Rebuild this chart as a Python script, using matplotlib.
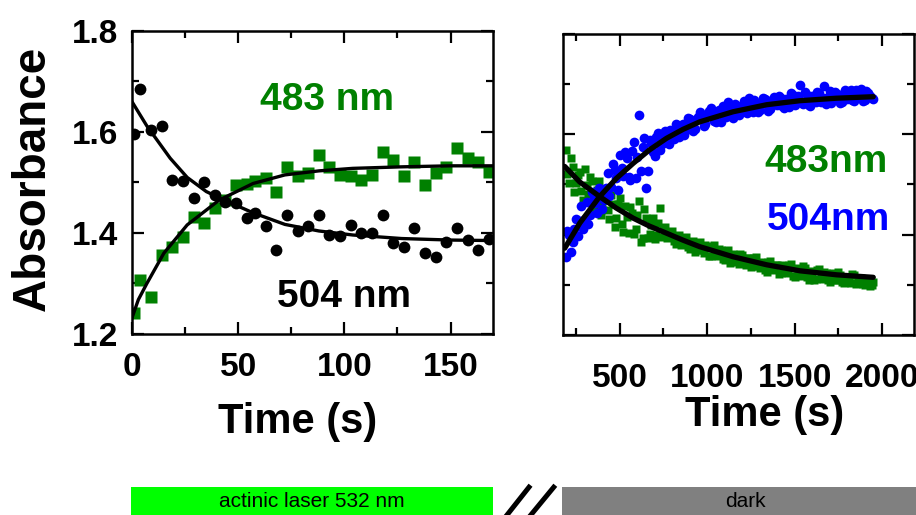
import matplotlib
matplotlib.use("Agg")
import matplotlib.pyplot as plt
from matplotlib.ticker import MultipleLocator
from matplotlib.patches import Rectangle
from matplotlib.lines import Line2D

plt.rcParams['font.family'] = ['Liberation Sans', 'DejaVu Sans']
plt.rcParams['font.weight'] = 'bold'

# left panel: actinic laser on
t_light = [1, 4, 9, 14, 19, 24, 29, 34, 39, 44, 49, 54, 58, 63, 68, 73, 78, 83,
           88, 93, 98, 103, 108, 113, 118, 123, 128, 133, 138, 143, 148, 153,
           158, 163, 168]
a504_light = [1.597, 1.686, 1.604, 1.612, 1.505, 1.502, 1.469, 1.500, 1.475,
              1.462, 1.459, 1.429, 1.439, 1.413, 1.366, 1.436, 1.403, 1.414,
              1.436, 1.396, 1.395, 1.416, 1.399, 1.399, 1.436, 1.380, 1.373,
              1.409, 1.360, 1.353, 1.383, 1.409, 1.386, 1.366, 1.389]
a483_light = [1.241, 1.307, 1.274, 1.356, 1.373, 1.393, 1.432, 1.419, 1.449,
              1.465, 1.495, 1.498, 1.502, 1.508, 1.482, 1.531, 1.512, 1.518,
              1.554, 1.531, 1.515, 1.512, 1.505, 1.515, 1.561, 1.545, 1.512,
              1.541, 1.495, 1.518, 1.531, 1.568, 1.548, 1.541, 1.521]

# fit curves
fit504_t_light = [0, 7, 18, 26, 35, 43, 57, 72, 88, 104, 127, 150, 170]
fit504_light = [1.660, 1.612, 1.548, 1.510, 1.482, 1.466, 1.440, 1.417, 1.404,
                1.396, 1.389, 1.386, 1.385]
fit483_t_light = [0, 3, 7, 15, 26, 41, 57, 72, 88, 104, 127, 150, 170]
fit483_light = [1.232, 1.268, 1.300, 1.360, 1.416, 1.465, 1.498, 1.515, 1.523,
                1.528, 1.531, 1.533, 1.533]

# right panel: dark recovery (two interleaved sweeps)
t_dark = [190, 210, 230, 250, 270, 290, 310, 330, 350, 370,
          390, 410, 430, 450, 470, 490, 510, 530, 550, 570,
          590, 610, 630, 650, 670, 690, 710, 730, 750, 770,
          790, 810, 830, 850, 870, 890, 910, 930, 950, 970,
          990, 1010, 1030, 1050, 1070, 1090, 1110, 1130, 1150, 1170,
          1190, 1210, 1230, 1250, 1270, 1290, 1310, 1330, 1350, 1370,
          1390, 1410, 1430, 1450, 1470, 1490, 1510, 1530, 1550, 1570,
          1590, 1610, 1630, 1650, 1670, 1690, 1710, 1730, 1750, 1770,
          1790, 1810, 1830, 1850, 1870, 1890, 1910, 1930, 1950]
a504_dark = [1.356, 1.399, 1.386, 1.432, 1.428, 1.412, 1.466, 1.440, 1.474, 1.443,
             1.487, 1.470, 1.523, 1.496, 1.528, 1.490, 1.532, 1.564, 1.515, 1.566,
             1.512, 1.638, 1.574, 1.494, 1.589, 1.564, 1.594, 1.569, 1.598, 1.584,
             1.608, 1.590, 1.619, 1.613, 1.599, 1.632, 1.619, 1.610, 1.635, 1.630,
             1.620, 1.646, 1.637, 1.625, 1.649, 1.657, 1.635, 1.651, 1.633, 1.657,
             1.650, 1.666, 1.643, 1.659, 1.668, 1.645, 1.661, 1.670, 1.647, 1.668,
             1.661, 1.677, 1.657, 1.670, 1.655, 1.678, 1.668, 1.698, 1.660, 1.678,
             1.657, 1.675, 1.684, 1.664, 1.696, 1.675, 1.662, 1.684, 1.674, 1.665,
             1.689, 1.681, 1.668, 1.688, 1.678, 1.667, 1.687, 1.677, 1.671]
a483_dark = [1.569, 1.502, 1.535, 1.503, 1.525, 1.469, 1.499, 1.514, 1.464, 1.489,
             1.440, 1.484, 1.449, 1.480, 1.415, 1.461, 1.422, 1.458, 1.403, 1.444,
             1.411, 1.468, 1.394, 1.433, 1.402, 1.434, 1.399, 1.453, 1.413, 1.393,
             1.405, 1.388, 1.397, 1.379, 1.394, 1.375, 1.384, 1.366, 1.383, 1.369,
             1.380, 1.358, 1.378, 1.362, 1.372, 1.352, 1.364, 1.344, 1.362, 1.346,
             1.362, 1.344, 1.353, 1.335, 1.353, 1.338, 1.346, 1.329, 1.345, 1.330,
             1.339, 1.321, 1.340, 1.327, 1.340, 1.318, 1.333, 1.320, 1.337, 1.316,
             1.327, 1.310, 1.329, 1.314, 1.326, 1.309, 1.322, 1.310, 1.325, 1.305,
             1.316, 1.306, 1.321, 1.301, 1.312, 1.302, 1.309, 1.297, 1.305]

t_dark2 = [200, 220, 240, 260, 280, 300, 320, 340, 360, 380,
           400, 420, 440, 460, 480, 500, 520, 540, 560, 580,
           600, 620, 640, 660, 680, 700, 720, 740, 760, 780,
           800, 820, 840, 860, 880, 900, 920, 940, 960, 980,
           1000, 1020, 1040, 1060, 1080, 1100, 1120, 1140, 1160, 1180,
           1200, 1220, 1240, 1260, 1280, 1300, 1320, 1340, 1360, 1380,
           1400, 1420, 1440, 1460, 1480, 1500, 1520, 1540, 1560, 1580,
           1600, 1620, 1640, 1660, 1680, 1700, 1720, 1740, 1760, 1780,
           1800, 1820, 1840, 1860, 1880, 1900, 1920, 1940]
a504_dark2 = [1.408, 1.365, 1.412, 1.398, 1.458, 1.432, 1.421, 1.485, 1.464, 1.493,
              1.451, 1.494, 1.477, 1.540, 1.512, 1.559, 1.516, 1.552, 1.508, 1.584,
              1.555, 1.526, 1.592, 1.527, 1.582, 1.557, 1.602, 1.580, 1.606, 1.580,
              1.604, 1.620, 1.594, 1.620, 1.609, 1.630, 1.607, 1.630, 1.645, 1.617,
              1.636, 1.652, 1.626, 1.642, 1.624, 1.650, 1.664, 1.640, 1.660, 1.638,
              1.657, 1.647, 1.672, 1.644, 1.661, 1.648, 1.673, 1.661, 1.650, 1.675,
              1.658, 1.673, 1.652, 1.669, 1.683, 1.658, 1.677, 1.663, 1.684, 1.659,
              1.677, 1.664, 1.682, 1.673, 1.661, 1.686, 1.668, 1.680, 1.663, 1.683,
              1.671, 1.688, 1.666, 1.680, 1.691, 1.669, 1.683, 1.673]
a483_dark2 = [1.520, 1.553, 1.486, 1.519, 1.487, 1.531, 1.481, 1.506, 1.451, 1.507,
              1.462, 1.491, 1.432, 1.462, 1.433, 1.474, 1.405, 1.435, 1.456, 1.402,
              1.439, 1.386, 1.452, 1.394, 1.420, 1.392, 1.424, 1.396, 1.416, 1.395,
              1.407, 1.382, 1.400, 1.385, 1.396, 1.371, 1.387, 1.370, 1.386, 1.363,
              1.375, 1.357, 1.379, 1.357, 1.369, 1.349, 1.369, 1.351, 1.359, 1.341,
              1.359, 1.340, 1.354, 1.338, 1.355, 1.333, 1.344, 1.326, 1.347, 1.332,
              1.340, 1.323, 1.336, 1.323, 1.341, 1.316, 1.331, 1.318, 1.333, 1.310,
              1.323, 1.312, 1.331, 1.312, 1.324, 1.305, 1.324, 1.310, 1.319, 1.303,
              1.314, 1.304, 1.319, 1.305, 1.314, 1.300, 1.307, 1.299]

fit_t_dark = [185, 271, 385, 480, 576, 670, 767, 862, 958, 1148, 1340, 1530,
              1740, 1950]
fit504_dark = [1.373, 1.423, 1.476, 1.512, 1.542, 1.569, 1.592, 1.610, 1.625,
               1.645, 1.659, 1.667, 1.672, 1.675]
fit483_dark = [1.536, 1.505, 1.476, 1.453, 1.433, 1.417, 1.403, 1.389, 1.376,
               1.356, 1.340, 1.328, 1.320, 1.315]

green = '#008000'
blue = '#0000ff'

fig = plt.figure(figsize=(9.16, 5.15), dpi=100)
ax1 = fig.add_axes([0.1441, 0.3515, 0.3941, 0.5883])
ax2 = fig.add_axes([0.6146, 0.3495, 0.3832, 0.5845])

# left panel
ax1.plot(t_light, a483_light, 's', color=green, ms=8, mec='none')
ax1.plot(t_light, a504_light, 'o', color='black', ms=8.5, mec='none')
ax1.plot(fit483_t_light, fit483_light, color='black', lw=2.4)
ax1.plot(fit504_t_light, fit504_light, color='black', lw=2.4)
ax1.set_xlim(0, 170)
ax1.set_ylim(1.2, 1.8)
ax1.xaxis.set_major_locator(MultipleLocator(50))
ax1.xaxis.set_minor_locator(MultipleLocator(25))
ax1.yaxis.set_minor_locator(MultipleLocator(0.1))
ax1.set_yticks([1.2, 1.4, 1.6, 1.8])
ax1.set_yticklabels(['1.2', '1.4', '1.6', '1.8'])
ax1.tick_params(axis='x', which='major', pad=13)
ax1.tick_params(axis='y', which='major', pad=10)
ax1.set_ylabel('Absorbance', fontsize=33, fontweight='bold')
ax1.yaxis.set_label_coords(-0.215, 0.515)
ax1.set_xlabel('Time (s)', fontsize=30, fontweight='bold')
ax1.xaxis.set_label_coords(0.46, -0.225)
ax1.text(0.355, 0.739, '483 nm', color=green, fontsize=28, fontweight='bold',
         transform=ax1.transAxes, va='baseline')
ax1.text(0.402, 0.089, '504 nm', color='black', fontsize=28, fontweight='bold',
         transform=ax1.transAxes, va='baseline')

# right panel
for tt, aa in ((t_dark, a483_dark), (t_dark2, a483_dark2)):
    ax2.plot(tt, aa, 's', color=green, ms=6, mec='none')
for tt, aa in ((t_dark, a504_dark), (t_dark2, a504_dark2)):
    ax2.plot(tt, aa, 'o', color=blue, ms=7, mec='none')
ax2.plot(fit_t_dark, fit483_dark, color='black', lw=3.8, solid_capstyle='round')
ax2.plot(fit_t_dark, fit504_dark, color='black', lw=3.8, solid_capstyle='round')
ax2.set_xlim(175, 2183)
ax2.set_ylim(1.2, 1.8)
ax2.xaxis.set_minor_locator(MultipleLocator(250))
ax2.yaxis.set_major_locator(MultipleLocator(0.2))
ax2.yaxis.set_minor_locator(MultipleLocator(0.1))
ax2.set_xticks([500, 1000, 1500, 2000])
ax2.set_xticklabels(['500', '1000', '1500', '2000'])
ax2.tick_params(axis='y', which='both', labelleft=False)
ax2.tick_params(axis='x', which='major', pad=20)
ax2.set_xlabel('Time (s)', fontsize=30, fontweight='bold')
ax2.xaxis.set_label_coords(0.575, -0.2)
ax2.text(0.575, 0.542, '483nm', color=green, fontsize=28, fontweight='bold',
         transform=ax2.transAxes, va='baseline')
ax2.text(0.581, 0.349, '504nm', color=blue, fontsize=28, fontweight='bold',
         transform=ax2.transAxes, va='baseline')

for ax in (ax1, ax2):
    for s in ax.spines.values():
        s.set_linewidth(1.8)
    ax.tick_params(which='both', direction='in', top=True, right=True,
                   width=1.6, labelsize=24)
    ax.tick_params(which='major', length=8.5)
    ax.tick_params(which='minor', length=5)
    for lab in ax.get_xticklabels() + ax.get_yticklabels():
        lab.set_fontweight('bold')

# illumination bars along the bottom
fig.patches.append(Rectangle((0.143, 0.0), 0.395, 0.054, transform=fig.transFigure,
                             facecolor='#00ff00', edgecolor='none'))
fig.patches.append(Rectangle((0.6135, 0.0), 0.3865, 0.054, transform=fig.transFigure,
                             facecolor='#808080', edgecolor='none'))
fig.text(0.3405, 0.027, 'actinic laser 532 nm', fontsize=15, fontweight='normal',
         ha='center', va='center')
fig.text(0.814, 0.027, 'dark', fontsize=15, fontweight='normal',
         ha='center', va='center')
fig.lines.append(Line2D([0.5535, 0.5775], [0.0, 0.054], transform=fig.transFigure,
                        color='black', lw=3.6))
fig.lines.append(Line2D([0.5795, 0.6045], [0.0, 0.054], transform=fig.transFigure,
                        color='black', lw=3.6))

fig.savefig('out.png', dpi=100)
